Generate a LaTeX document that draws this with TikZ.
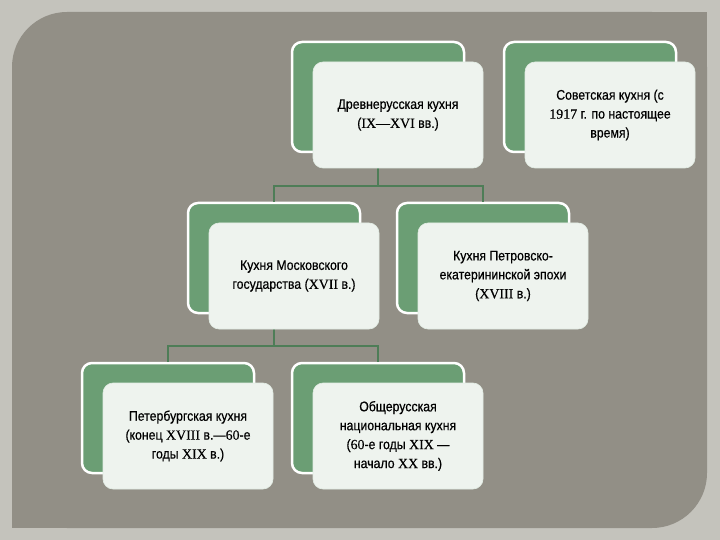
\documentclass[tikz,border=0pt]{standalone}
\usepackage{fontspec}
\setmainfont{Liberation Sans}[FakeStretch=0.88, FakeBold=0.5]
\newfontfamily\numfont{Liberation Serif}[FakeBold=0.3]
\newcommand{\rn}[1]{{\numfont #1}}
\usetikzlibrary{calc}
\definecolor{framegray}{HTML}{C4C3BC}
\definecolor{panelgray}{HTML}{928F86}
\definecolor{cardgreen}{HTML}{6B9E74}
\definecolor{cardface}{HTML}{EEF3EE}
\definecolor{linkgreen}{HTML}{4E7D57}

\begin{document}
\begin{tikzpicture}[x=1bp, y=-1bp,
  back/.style={draw=white, line width=2.5bp, fill=cardgreen, rounded corners=10bp,
    minimum width=172bp, minimum height=110bp, inner sep=0pt},
  card/.style={draw=white!80!cardgreen, line width=0.6bp, fill=cardface, rounded corners=10bp,
    minimum width=170bp, minimum height=106bp, inner sep=0pt, align=center,
    font=\fontsize{14}{19}\selectfont},
  link/.style={draw=linkgreen, line width=1.6bp}]
  % background
  \fill[framegray] (0,0) rectangle (720,540);
  \fill[panelgray, rounded corners=55bp] (12,12) rectangle (707,528);
  \fill[panelgray] (600,12) rectangle (707,120);
  \fill[panelgray] (12,420) rectangle (120,528);
  \useasboundingbox (0,0) rectangle (720,540);

  % green backs
  \coordinate (oldC) at (378,97);
  \coordinate (sovietC) at (590,97);
  \coordinate (moscowC) at (274,258);
  \coordinate (peterC) at (483,258);
  \coordinate (spbC) at (168,418);
  \coordinate (allrusC) at (378,418);

  \node [back] (oldB) at (oldC) {};
  \node [back] (sovietB) at (sovietC) {};
  \node [back] (moscowB) at (moscowC) {};
  \node [back] (peterB) at (peterC) {};
  \node [back] (spbB) at (spbC) {};
  \node [back] (allrusB) at (allrusC) {};

  % links
  \draw [link] (oldB.south) -- ++(0,33) coordinate (j1);
  \draw [link] (moscowB.north) |- (j1) -| (peterB.north);
  \draw [link] (moscowB.south) -- ++(0,32) coordinate (j2);
  \draw [link] (spbB.north) |- (j2) -| (allrusB.north);

  % cards
  \node [card] (old) at ($ (oldC)+(20,18) $) {Древнерусская кухня\\(\rn{IX—XVI} вв.)};
  \node [card] (soviet) at ($ (sovietC)+(20,18) $) {Советская кухня (с\\\rn{1917} г. по настоящее\\время)};
  \node [card] (moscow) at ($ (moscowC)+(20,18) $) {Кухня Московского\\государства (\rn{XVII} в.)};
  \node [card] (peter) at ($ (peterC)+(20,18) $) {Кухня Петровско-\\екатерининской эпохи\\(\rn{XVIII} в.)};
  \node [card] (spb) at ($ (spbC)+(20,18) $) {Петербургская кухня\\(конец \rn{XVIII} в.—\rn{60}-е\\годы \rn{XIX} в.)};
  \node [card] (allrus) at ($ (allrusC)+(20,18) $) {Общерусская\\национальная кухня\\(\rn{60}-е годы \rn{XIX} —\\начало \rn{XX} вв.)};
\end{tikzpicture}
\end{document}
